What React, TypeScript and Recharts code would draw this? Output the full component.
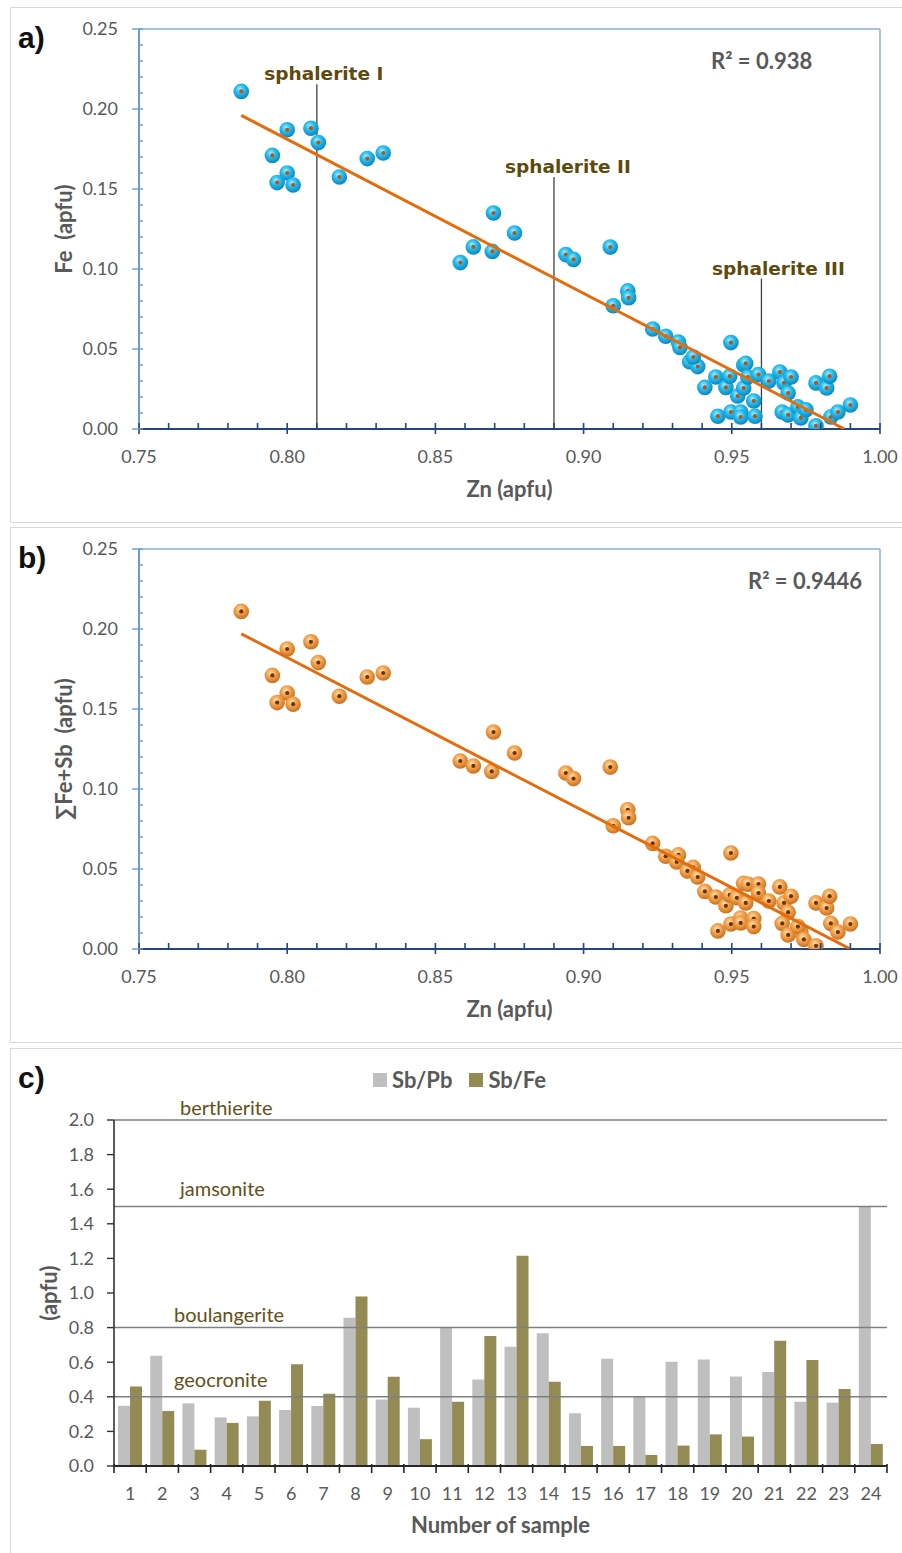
import React from 'react';
import { ScatterChart, Scatter, XAxis, YAxis, ReferenceLine, BarChart, Bar, Legend } from 'recharts';

const SANS = 'Lato, "Open Sans", sans-serif';
const WIDE = '"DejaVu Sans", Verdana, sans-serif';
const TEXT_GRAY = '#595959';
const OLIVE = '#5d4a0c';
const AXIS_BLUE = '#6b99d6';
const BORDER_BLUE = '#8caddc';
const AXIS_NAVY = '#24467f';
const TREND = '#e46c0a';

// shared ticks of the two scatter panels
const ZN_TICKS = [0.75, 0.76, 0.77, 0.78, 0.79, 0.8, 0.81, 0.82, 0.83, 0.84, 0.85, 0.86, 0.87, 0.88, 0.89, 0.9, 0.91, 0.92, 0.93, 0.94, 0.95, 0.96, 0.97, 0.98, 0.99, 1.0];
const APFU_TICKS = [0, 0.01, 0.02, 0.03, 0.04, 0.05, 0.06, 0.07, 0.08, 0.09, 0.1, 0.11, 0.12, 0.13, 0.14, 0.15, 0.16, 0.17, 0.18, 0.19, 0.2, 0.21, 0.22, 0.23, 0.24, 0.25];

// a) Zn vs Fe
const ZN_A = [0.7845, 0.8, 0.808, 0.8105, 0.795, 0.8, 0.7966, 0.802, 0.8176, 0.827, 0.8324, 0.8696, 0.8767, 0.8628, 0.8692, 0.8584, 0.894, 0.8966, 0.909, 0.91, 0.9149, 0.9152, 0.9233, 0.9277, 0.932, 0.9325, 0.9358, 0.9385, 0.937, 0.9497, 0.9409, 0.9446, 0.948, 0.9493, 0.9453, 0.9497, 0.953, 0.953, 0.952, 0.954, 0.954, 0.9547, 0.9554, 0.9574, 0.9578, 0.959, 0.9625, 0.9662, 0.9676, 0.969, 0.97, 0.967, 0.969, 0.9723, 0.9733, 0.975, 0.9784, 0.9784, 0.982, 0.983, 0.9834, 0.9858, 0.99];
const FE_A = [0.211, 0.187, 0.188, 0.179, 0.171, 0.16, 0.154, 0.1525, 0.1575, 0.169, 0.1725, 0.135, 0.1225, 0.1138, 0.111, 0.104, 0.109, 0.106, 0.1137, 0.077, 0.0863, 0.082, 0.0625, 0.058, 0.0544, 0.051, 0.042, 0.039, 0.045, 0.054, 0.026, 0.0325, 0.026, 0.033, 0.008, 0.0106, 0.0106, 0.0075, 0.0206, 0.0256, 0.04, 0.041, 0.0325, 0.0175, 0.008, 0.034, 0.03, 0.0356, 0.0288, 0.0225, 0.0325, 0.0106, 0.0088, 0.0138, 0.0069, 0.012, 0.0288, 0.002, 0.0256, 0.033, 0.0075, 0.0106, 0.015];
const TREND_A_ZN = [0.7845, 0.988];
const TREND_A_FE = [0.196, 0.0];

const PHASE_NAMES = ['sphalerite I', 'sphalerite II', 'sphalerite III'];
const PHASE_ZN = [0.81, 0.89, 0.96];
const PHASE_TOP = [0.2155, 0.1575, 0.094];

// b) Zn vs sum Fe+Sb
const ZN_B = [0.7845, 0.8, 0.808, 0.8105, 0.795, 0.8, 0.7966, 0.802, 0.8176, 0.827, 0.8324, 0.8696, 0.8767, 0.8584, 0.8628, 0.869, 0.894, 0.8966, 0.909, 0.91, 0.9149, 0.9152, 0.9233, 0.9277, 0.932, 0.9314, 0.937, 0.935, 0.9385, 0.9497, 0.9409, 0.9446, 0.948, 0.9493, 0.9517, 0.954, 0.9555, 0.9547, 0.9453, 0.9497, 0.953, 0.953, 0.9574, 0.9574, 0.959, 0.959, 0.9625, 0.9662, 0.9676, 0.969, 0.97, 0.967, 0.969, 0.9733, 0.9723, 0.9743, 0.9784, 0.9784, 0.982, 0.983, 0.9834, 0.9858, 0.99];
const FESB_B = [0.211, 0.1875, 0.192, 0.179, 0.171, 0.16, 0.154, 0.153, 0.158, 0.17, 0.1725, 0.1356, 0.1225, 0.1175, 0.1144, 0.111, 0.11, 0.1065, 0.1137, 0.077, 0.087, 0.082, 0.066, 0.058, 0.0588, 0.0544, 0.051, 0.0488, 0.045, 0.06, 0.036, 0.0325, 0.027, 0.0338, 0.032, 0.041, 0.0405, 0.0288, 0.0113, 0.0156, 0.0194, 0.0163, 0.019, 0.014, 0.0406, 0.035, 0.03, 0.0388, 0.0288, 0.023, 0.033, 0.016, 0.0088, 0.0106, 0.014, 0.006, 0.0288, 0.002, 0.0256, 0.033, 0.016, 0.0106, 0.0156];
const TREND_B_ZN = [0.7845, 0.99];
const TREND_B_FESB = [0.197, 0.0];

// c) ratios per sample
const SAMPLES = ['1', '2', '3', '4', '5', '6', '7', '8', '9', '10', '11', '12', '13', '14', '15', '16', '17', '18', '19', '20', '21', '22', '23', '24'];
const SB_PB = [0.348, 0.638, 0.362, 0.281, 0.287, 0.324, 0.347, 0.857, 0.385, 0.337, 0.8, 0.5, 0.69, 0.767, 0.305, 0.62, 0.4, 0.603, 0.616, 0.518, 0.543, 0.372, 0.366, 1.5];
const SB_FE = [0.46, 0.318, 0.094, 0.249, 0.377, 0.588, 0.418, 0.98, 0.516, 0.155, 0.372, 0.751, 1.215, 0.487, 0.116, 0.116, 0.064, 0.118, 0.183, 0.17, 0.724, 0.613, 0.445, 0.127];
const SERIES_NAMES = ['Sb/Pb', 'Sb/Fe'];
const RATIO_TICKS = [0, 0.2, 0.4, 0.6, 0.8, 1.0, 1.2, 1.4, 1.6, 1.8, 2.0];
const MINERALS = ['berthierite', 'jamsonite', 'boulangerite', 'geocronite'];
const MINERAL_RATIO = [2.0, 1.5, 0.8, 0.4];

const C_WIDTH = 902;
const C_MARGIN = { top: 72, right: 15, bottom: 0, left: 0 };
const C_YAXIS_W = 114;
const C_PLOT_W = C_WIDTH - C_MARGIN.left - C_MARGIN.right - C_YAXIS_W;

const isMajor = (v: number) => Math.abs(v * 20 - Math.round(v * 20)) < 1e-6;

function ZnTick({ x, y, payload }: any) {
  const major = isMajor(payload.value);
  return (
    <g>
      <line x1={x} x2={x} y1={y - 6} y2={major ? y + 5 : y} stroke={AXIS_NAVY} strokeWidth={1.6} />
      {major && (
        <text x={x} y={y + 34} textAnchor="middle" fontFamily={SANS} fontSize={18} fill={TEXT_GRAY}>
          {payload.value.toFixed(2)}
        </text>
      )}
    </g>
  );
}

function ApfuTick({ x, y, payload }: any) {
  const major = isMajor(payload.value);
  return (
    <g>
      <line x1={major ? x - 7 : x} x2={x + 4} y1={y} y2={y} stroke={AXIS_BLUE} strokeWidth={1.4} />
      {major && (
        <text x={x - 21} y={y + 6} textAnchor="end" fontFamily={SANS} fontSize={18} fill={TEXT_GRAY}>
          {payload.value.toFixed(2)}
        </text>
      )}
    </g>
  );
}

function SampleTick({ x, y, payload, index }: any) {
  const band = C_PLOT_W / SAMPLES.length;
  return (
    <g>
      <line x1={x - band / 2} x2={x - band / 2} y1={y - 2} y2={y + 7} stroke="#262626" strokeWidth={1.6} />
      {index === SAMPLES.length - 1 && (
        <line x1={x + band / 2} x2={x + band / 2} y1={y - 2} y2={y + 7} stroke="#262626" strokeWidth={1.6} />
      )}
      <text x={x} y={y + 34} textAnchor="middle" fontFamily={SANS} fontSize={18} fill={TEXT_GRAY}>
        {payload.value}
      </text>
    </g>
  );
}

const xTitle = (text: string, dy: number) => (p: any) => (
  <text
    x={p.viewBox.x + p.viewBox.width / 2}
    y={p.viewBox.y + dy}
    textAnchor="middle"
    fontFamily={SANS}
    fontWeight={700}
    fontSize={22}
    fill={TEXT_GRAY}
  >
    {text}
  </text>
);

const yTitle = (text: string, cx: number) => (p: any) => {
  const cy = p.viewBox.y + p.viewBox.height / 2;
  const x = p.viewBox.x + cx;
  return (
    <text
      x={x}
      y={cy}
      transform={`rotate(-90 ${x} ${cy})`}
      textAnchor="middle"
      dominantBaseline="central"
      fontFamily={SANS}
      fontWeight={700}
      fontSize={22}
      fill={TEXT_GRAY}
      style={{ whiteSpace: 'pre' }}
    >
      {text}
    </text>
  );
};

const phaseLabel = (text: string, dx: number) => (p: any) => (
  <text
    x={p.viewBox.x + dx}
    y={p.viewBox.y - 4}
    textAnchor="middle"
    fontFamily={WIDE}
    fontWeight={700}
    fontSize={18.5}
    fill={OLIVE}
  >
    {text}
  </text>
);

const mineralLabel = (text: string, dx: number, lift: number) => (p: any) => (
  <text x={p.viewBox.x + dx} y={p.viewBox.y - lift} fontFamily={SANS} fontSize={20} fill="#64501a">
    {text}
  </text>
);

const bead = (fillId: string, dot: string) => (p: any) => (
  <g>
    <circle cx={p.cx} cy={p.cy} r={7.8} fill={`url(#${fillId})`} />
    <circle cx={p.cx} cy={p.cy} r={2.1} fill={dot} />
  </g>
);

function Frame({ top, height }: { top: number; height: number }) {
  return (
    <div
      style={{
        position: 'absolute',
        left: 10,
        top,
        width: 905,
        height,
        border: '1px solid #d9d9d9',
        boxSizing: 'border-box',
      }}
    />
  );
}

function Overlay({ left, top, size, children, family = SANS, color = TEXT_GRAY }: any) {
  return (
    <div
      style={{
        position: 'absolute',
        left,
        top,
        fontFamily: family,
        fontWeight: 700,
        fontSize: size,
        lineHeight: `${size}px`,
        color,
        whiteSpace: 'pre',
      }}
    >
      {children}
    </div>
  );
}

function ScatterPanel({ top, xs, ys, trendX, trendY, fillId, stops, dot, yLabel, phases }: any) {
  const points = xs.map((x: number, i: number) => ({ x, y: ys[i] }));
  const trend = trendX.map((x: number, i: number) => ({ x, y: trendY[i] }));
  return (
    <div style={{ position: 'absolute', left: 0, top }}>
      <ScatterChart width={902} height={516} margin={{ top: 22, right: 22, bottom: 0, left: 0 }}>
        <defs>
          <radialGradient id={fillId} cx="42%" cy="36%" r="64%">
            <stop offset="0%" stopColor={stops[0]} />
            <stop offset="45%" stopColor={stops[1]} />
            <stop offset="100%" stopColor={stops[2]} />
          </radialGradient>
        </defs>
        <XAxis
          type="number"
          dataKey="x"
          domain={[0.75, 1.0]}
          ticks={ZN_TICKS}
          interval={0}
          allowDataOverflow
          height={94}
          tickSize={0}
          tickMargin={0}
          axisLine={{ stroke: AXIS_NAVY, strokeWidth: 2 }}
          tick={(p: any) => <ZnTick {...p} />}
          label={{ content: xTitle('Zn (apfu)', 68) }}
        />
        <YAxis
          type="number"
          dataKey="y"
          domain={[0, 0.25]}
          ticks={APFU_TICKS}
          interval={0}
          allowDataOverflow
          width={139}
          tickSize={0}
          tickMargin={0}
          axisLine={{ stroke: AXIS_BLUE, strokeWidth: 2 }}
          tick={(p: any) => <ApfuTick {...p} />}
          label={{ content: yTitle(yLabel, 63) }}
        />
        <ReferenceLine y={0.25} stroke={BORDER_BLUE} strokeWidth={1.5} />
        <ReferenceLine x={1.0} stroke={BORDER_BLUE} strokeWidth={1.5} />
        {phases &&
          PHASE_NAMES.map((name, i) => (
            <ReferenceLine
              key={name}
              segment={[
                { x: PHASE_ZN[i], y: 0 },
                { x: PHASE_ZN[i], y: PHASE_TOP[i] },
              ]}
              stroke="#404040"
              strokeWidth={1.3}
              label={{ content: phaseLabel(name, [7, 14, 17][i]) }}
            />
          ))}
        <Scatter data={points} isAnimationActive={false} shape={bead(fillId, dot)} />
        <Scatter
          data={trend}
          isAnimationActive={false}
          line={{ stroke: TREND, strokeWidth: 3 }}
          shape={() => <g />}
        />
      </ScatterChart>
    </div>
  );
}

function BarLegend({ payload }: any) {
  const items = [...(payload || [])].sort(
    (a: any, b: any) => SERIES_NAMES.indexOf(a.value) - SERIES_NAMES.indexOf(b.value)
  );
  return (
    <div style={{ display: 'flex', gap: 17, fontFamily: SANS, fontWeight: 700, fontSize: 22, color: TEXT_GRAY, lineHeight: '22px' }}>
      {items.map((e: any) => (
        <div key={e.value} style={{ display: 'flex', alignItems: 'center' }}>
          <span style={{ display: 'inline-block', width: 14, height: 14, background: e.color, marginRight: 5 }} />
          {e.value}
        </div>
      ))}
    </div>
  );
}

function RatioPanel({ top }: { top: number }) {
  const data = SAMPLES.map((sample, i) => ({ sample, sbPb: SB_PB[i], sbFe: SB_FE[i] }));
  return (
    <div style={{ position: 'absolute', left: 0, top }}>
      <BarChart width={C_WIDTH} height={505} data={data} margin={C_MARGIN} barCategoryGap="12.5%" barGap={0}>
        <XAxis
          dataKey="sample"
          height={87}
          interval={0}
          tickSize={0}
          tickMargin={0}
          tickLine={false}
          axisLine={{ stroke: '#262626', strokeWidth: 2 }}
          tick={(p: any) => <SampleTick {...p} />}
          label={{ content: xTitle('Number of sample', 67) }}
        />
        <YAxis
          domain={[0, 2]}
          ticks={RATIO_TICKS}
          interval={0}
          width={C_YAXIS_W}
          tickSize={7}
          tickMargin={13}
          tickFormatter={(v: number) => v.toFixed(1)}
          axisLine={{ stroke: '#333333', strokeWidth: 1.6 }}
          tickLine={{ stroke: '#333333', strokeWidth: 1.4 }}
          tick={{ fill: TEXT_GRAY, fontSize: 18, fontFamily: SANS }}
          label={{ content: yTitle('(apfu)', 48) }}
        />
        <Legend
          layout="horizontal"
          verticalAlign="middle"
          align="center"
          wrapperStyle={{ top: 21, left: 373, width: 'auto' }}
          content={(p: any) => <BarLegend {...p} />}
        />
        {MINERALS.map((m, i) => (
          <ReferenceLine
            key={m}
            y={MINERAL_RATIO[i]}
            stroke="#7f7f7f"
            strokeWidth={1.5}
            label={{ content: mineralLabel(m, [66, 66, 60, 60][i], [5, 11, 6, 10][i]) }}
          />
        ))}
        <Bar dataKey="sbPb" name={SERIES_NAMES[0]} fill="#bfbfbf" isAnimationActive={false} />
        <Bar dataKey="sbFe" name={SERIES_NAMES[1]} fill="#948a54" isAnimationActive={false} />
      </BarChart>
    </div>
  );
}

export default function App() {
  return (
    <div style={{ position: 'absolute', left: 0, top: 0, width: 902, height: 1553, background: '#fff', overflow: 'hidden' }}>
      <Frame top={7} height={516} />
      <Frame top={527} height={516} />
      <Frame top={1048} height={520} />
      <ScatterPanel
        top={7}
        xs={ZN_A}
        ys={FE_A}
        trendX={TREND_A_ZN}
        trendY={TREND_A_FE}
        fillId="beadBlue"
        stops={['#a8ecff', '#24bdec', '#0a84c2']}
        dot="#b8541a"
        yLabel="Fe  (apfu)"
        phases
      />
      <ScatterPanel
        top={527}
        xs={ZN_B}
        ys={FESB_B}
        trendX={TREND_B_ZN}
        trendY={TREND_B_FESB}
        fillId="beadOrange"
        stops={['#fde3b6', '#f3a24c', '#c8701f']}
        dot="#6e3210"
        yLabel="∑Fe+Sb  (apfu)"
      />
      <RatioPanel top={1048} />
      <Overlay left={711} top={50} size={22}>R² = 0.938</Overlay>
      <Overlay left={748} top={570} size={22}>R² = 0.9446</Overlay>
      <Overlay left={18} top={23} size={30} family='"Liberation Sans", Arial, sans-serif' color="#111">a)</Overlay>
      <Overlay left={18} top={543} size={30} family='"Liberation Sans", Arial, sans-serif' color="#111">b)</Overlay>
      <Overlay left={18} top={1063} size={30} family='"Liberation Sans", Arial, sans-serif' color="#111">c)</Overlay>
    </div>
  );
}
